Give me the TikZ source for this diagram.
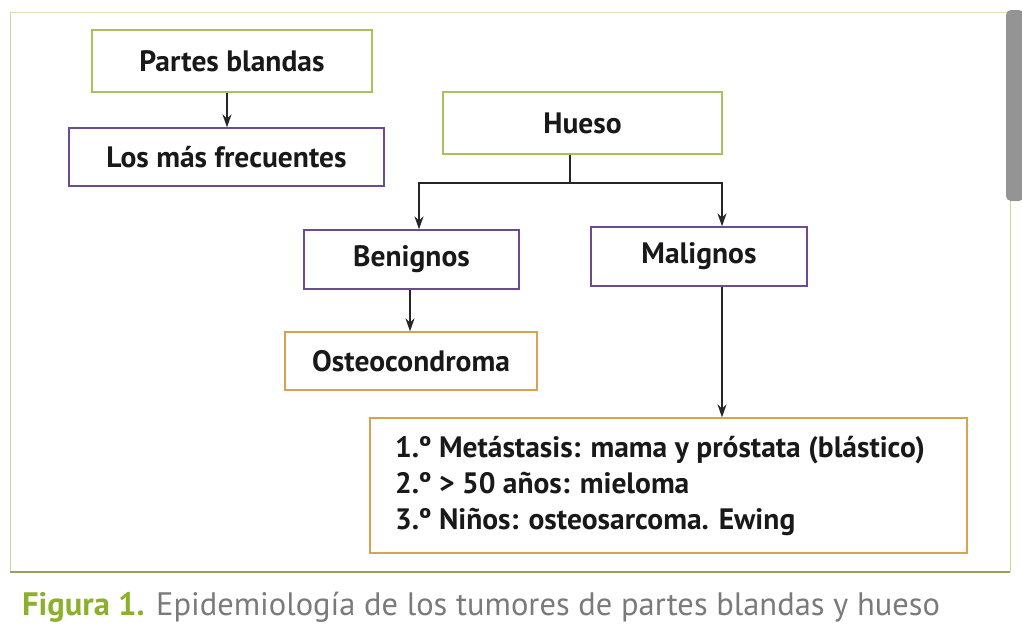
\documentclass[tikz,border=0pt]{standalone}
\usepackage{fontspec}
\setmainfont{PT Sans}
\usetikzlibrary{arrows.meta}
\definecolor{gframe}{HTML}{A9C15A}
\definecolor{pframe}{HTML}{6B4C94}
\definecolor{oframe}{HTML}{D9A24E}
\definecolor{capgreen}{HTML}{8CB02E}
\definecolor{capgrey}{HTML}{7A7A7A}
\tikzset{
  box/.style={draw=#1, line width=1.3pt, inner sep=0pt, font=\bfseries\fontsize{29.5}{34}\selectfont, text=black!90},
  conn/.style={draw=black!85, line width=1.5pt, -{Stealth[length=13pt,width=9pt]}},
  plain/.style={draw=black!85, line width=1.5pt},
}
\begin{document}
\begin{tikzpicture}[x=1pt,y=-1pt]
\useasboundingbox (0,0) rectangle (1022,632);
% outer frame
\draw[draw=gframe!45, line width=1pt] (10,12) -- (1010,12);
\draw[draw=gframe!60, line width=1pt] (10,12) -- (10,572);
\draw[draw=gframe!80!black!90, line width=1.2pt] (10,572) -- (1010,572);
\draw[draw=gframe!60, line width=1pt] (1010,12) -- (1010,572);
% scrollbar
\fill[black!42, rounded corners=5pt] (1006,10) rectangle (1024,201);
% boxes
\node[box=gframe, minimum width=280pt, minimum height=62pt] (pb) at (232,61) {Partes blandas};
\node[box=pframe, minimum width=315pt, minimum height=58pt] (lmf) at (226.5,157) {Los más frecuentes};
\node[box=gframe, minimum width=279pt, minimum height=62pt] (hu) at (582.5,123) {Hueso};
\node[box=pframe, minimum width=215pt, minimum height=59pt] (be) at (411.5,259.5) {Benignos};
\node[box=pframe, minimum width=216pt, minimum height=59pt] (ma) at (699,256.5) {Malignos};
\node[box=oframe, minimum width=252pt, minimum height=58pt] (os) at (411,361) {Osteocondroma};
\node[box=oframe, minimum width=597pt, minimum height=135pt] (li) at (668.5,485.5) {};
\node[anchor=west, font=\bfseries\fontsize{29.5}{36}\selectfont, text=black!90, align=left, inner sep=0pt] (lt) at (395,486)
  {1.º Metástasis: mama y próstata (blástico)\\2.º > 50 años: mieloma\\3.º Niños: osteosarcoma. Ewing};
% connectors
\draw[conn] (pb.south -| 227,0) -- (lmf.north -| 227,0);
\coordinate (hj) at (570,183);
\draw[plain] (hu.south -| hj) -- (hj);
\draw[conn] (hj) -| (be.north -| 419,0);
\draw[conn] (hj) -| (ma.north -| 722,0);
\draw[conn] (be.south -| 410,0) -- (os.north -| 410,0);
\draw[conn] (ma.south -| 722,0) -- (li.north -| 722,0);
% caption
\node[anchor=west, font=\fontsize{32.5}{36}\selectfont, inner sep=0pt] (cap) at (22,607)
  {\textcolor{capgreen}{\bfseries Figura 1.} \textcolor{capgrey}{Epidemiología de los tumores de partes blandas y hueso}};
\end{tikzpicture}
\end{document}
